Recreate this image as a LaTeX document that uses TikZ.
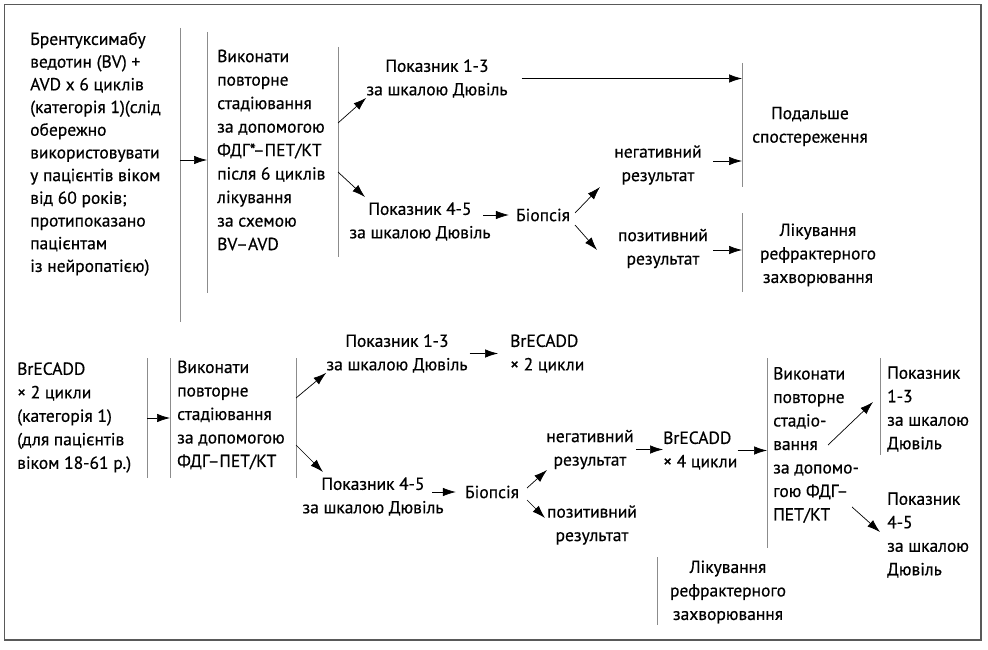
\documentclass[tikz,border=0pt]{standalone}
\usepackage{fontspec}
\setmainfont{PT Sans}[FakeBold=0.5]
\usetikzlibrary{arrows.meta}

\begin{document}
\begin{tikzpicture}[
  x=1pt, y=-1pt,
  every node/.style={font=\fontsize{17.5}{23.5}\selectfont, inner sep=0pt},
  lft/.style={anchor=west, align=left},
  mid/.style={align=center},
  bar/.style={draw=black!45, line width=0.9pt},
  arr/.style={-{Latex[length=13pt,width=8.5pt]}, line width=0.7pt}
]
  \useasboundingbox (0,0) rectangle (988,650);
  % Frame
  \draw[black!65, line width=1.1pt] (4.5,4.5) rectangle (981,640);

  % Bars
  \foreach \n/\x/\ya/\yb in {b1/180/28/322, b2/207/32/293, b3/338/47/257,
      b4/742/63/187, b5/742/213/292, b6/147/358/478, b7/170/358/478,
      b8/296/358/478, b9/767/358/548, b10/657/557/625, b11/880/358/455}
  {
    \coordinate (\n t) at (\x,\ya);
    \coordinate (\n b) at (\x,\yb);
    \draw[bar] (\n t) -- (\n b);
  }

  % Upper scheme
  \node[lft, font=\fontsize{17.5}{22.7}\selectfont] (brent) at (30,154)
    {Брентуксимабу\\ведотин (BV) +\\AVD x 6 циклів\\(категорія 1)(слід\\обережно\\використовувати\\у пацієнтів віком\\від 60 років;\\протипоказано\\пацієнтам\\із нейропатією)};
  \node[lft] (restagea) at (217,150)
    {Виконати\\повторне\\стадіювання\\за допомогою\\ФДГ*–ПЕТ/КТ\\після 6 циклів\\лікування\\за схемою\\BV–AVD};
  \node[mid] (lowa) at (437,78.5) {Показник 1-3\\за шкалою Дювіль};
  \node[mid] (higha) at (420,221.5) {Показник 4-5\\за шкалою Дювіль};
  \node (biopa) at (543,215) {Біопсія};
  \node[mid] (nega) at (658,165) {негативний\\результат};
  \node[mid] (posa) at (663,248.5) {позитивний\\результат};
  \node[mid] (follow) at (810,126.5) {Подальше\\спостереження};
  \node[mid] (refra) at (818,255) {Лікування\\рефрактерного\\захворювання};

  % Lower scheme
  \node[lft] (brec) at (17,417.5)
    {BrECADD\\× 2 цикли\\(категорія 1)\\(для пацієнтів\\віком 18-61 р.)};
  \node[lft] (restageb) at (177,415)
    {Виконати\\повторне\\стадіювання\\за допомогою\\ФДГ–ПЕТ/КТ};
  \node[mid] (lowb) at (397,353.5) {Показник 1-3\\за шкалою Дювіль};
  \node[lft] (brtwo) at (510,353.5) {BrECADD\\× 2 цикли};
  \node[mid] (highb) at (373,496.5) {Показник 4-5\\за шкалою Дювіль};
  \node (biopb) at (492,492) {Біопсія};
  \node[mid] (negb) at (590,449.5) {негативний\\результат};
  \node[mid] (posb) at (592,525) {позитивний\\результат};
  \node[lft] (brfour) at (663,450.5) {BrECADD\\× 4 цикли};
  \node[mid] (refrb) at (728,592) {Лікування\\рефрактерного\\захворювання};
  \node[lft] (restagec) at (773,445)
    {Виконати\\повторне\\стадіо-\\вання\\за допомо-\\гою ФДГ–\\ПЕТ/КТ};
  \node[lft] (lowc) at (887,409) {Показник\\1-3\\за шкалою\\Дювіль};
  \node[lft] (highc) at (887,535) {Показник\\4-5\\за шкалою\\Дювіль};

  % Arrow ends
  \coordinate (t1) at (180,160);
  \coordinate (t2) at (338,123);
  \coordinate (t3) at (338,172);  \coordinate (h3) at (365,197);
  \coordinate (t4) at (483,215);
  \coordinate (t5) at (575,213);  \coordinate (h5) at (600,187);
  \coordinate (t6) at (575,225);  \coordinate (h6) at (597,250);
  \coordinate (t7) at (713,161);
  \coordinate (t8) at (713,250);
  \coordinate (t9) at (147,418);
  \coordinate (t10) at (296,398);
  \coordinate (t11) at (296,445); \coordinate (h11) at (323,472);
  \coordinate (t12) at (432,492);
  \coordinate (t13) at (527,488); \coordinate (h13) at (547,470);
  \coordinate (t14) at (527,500); \coordinate (h14) at (545,518);
  \coordinate (t15) at (828,445); \coordinate (h15) at (873,402);
  \coordinate (t16) at (852,507); \coordinate (h16) at (880,532);

  % Arrows
  \draw[arr] (t1) -- (t1 -| b2t);
  \draw[arr] (t2) -- (lowa.south west);
  \draw[arr] (t3) -- (h3);
  \draw[arr, shorten <=14pt] (lowa.east) -- (lowa.east -| b4t);
  \draw[arr, shorten >=7pt] (t4) -- (biopa.west);
  \draw[arr] (t5) -- (h5);
  \draw[arr] (t6) -- (h6);
  \draw[arr] (t7) -- (t7 -| b4t);
  \draw[arr] (t8) -- (t8 -| b5t);
  \draw[arr] (t9) -- (t9 -| b7t);
  \draw[arr] (t10) -- (lowb.south west);
  \draw[arr] (t11) -- (h11);
  \draw[arr, shorten <=2pt, shorten >=12pt] (lowb.east) -- (lowb.east -| brtwo.west);
  \draw[arr, shorten >=9pt] (t12) -- (biopb.west);
  \draw[arr] (t13) -- (h13);
  \draw[arr] (t14) -- (h14);
  \draw[arr, shorten <=2pt] (negb.east) -- (negb.east -| brfour.west);
  \draw[arr] (brfour.east) -- (brfour.east -| b9t);
  \draw[arr] (t15) -- (h15);
  \draw[arr] (t16) -- (h16);

\end{tikzpicture}
\end{document}
